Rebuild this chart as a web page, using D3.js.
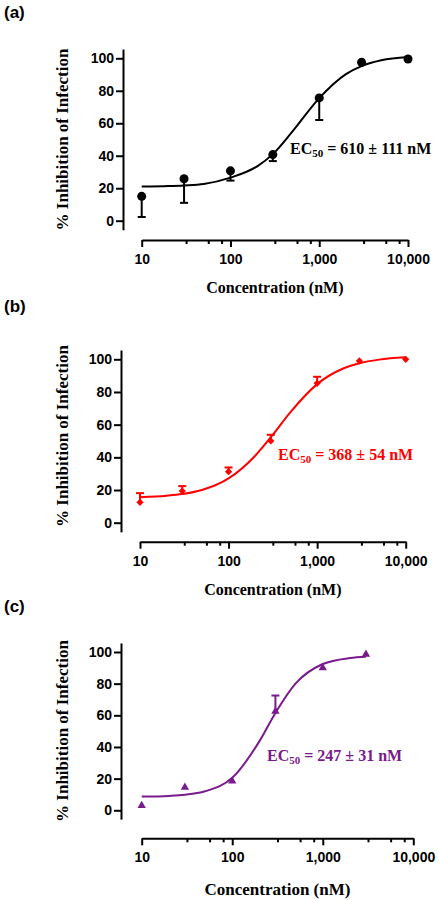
<!DOCTYPE html>
<html><head><meta charset="utf-8">
<script src="https://cdn.jsdelivr.net/npm/d3@7"></script>
<style>
body{margin:0;background:#fff}
.tick text{font-family:"Liberation Sans",Arial,sans-serif;font-weight:bold;font-size:14px;fill:#000}
</style>
</head><body>
<svg id="chart" width="438" height="900"></svg>
<script>
// ---- data ----
const conc = [10, 30, 100, 300, 1000, 3000, 10000];
const concC = [10, 30, 100, 300, 1000, 3000];
const inhA = [15, 25.8, 30.7, 40.7, 75.6, 97.5, 99.6];
const errA = [12.7, 14.8, 6, 4, 13.6, 0, 0];
const inhB = [12.5, 19.4, 31.2, 50, 85.3, 99, 100];
const errB = [5.6, 3, 2.6, 3.8, 4, 0, 0];
const inhC = [3, 14.5, 18.5, 62.5, 90, 98.5];
const errC = [0, 0, 0, 10, 0, 0];
const fitX = [10, 20, 30, 50, 100, 200, 300, 500, 1000, 2000, 3000, 5000, 10000];
const fitA = [21.0, 21.3, 21.7, 22.6, 26.5, 33.5, 41, 55, 75.5, 90.3, 95.2, 98.8, 100.8];
const fitB = [15.6, 16.5, 17.5, 20, 27.1, 41, 52.3, 67.7, 84.8, 94.5, 97.6, 99.8, 101.2];
const fitXC = [10, 20, 30, 50, 100, 200, 300, 500, 1000, 2000, 3000];
const fitC = [8.65, 9.1, 9.8, 12.0, 20.5, 43.7, 61.5, 80, 92.4, 96.2, 97.0];
const xTicks = [10, 100, 1000, 10000];
const xMinor = [31.6, 56.2, 79.4, 316, 562, 794, 3160, 5620, 7940];
const yTicks = [0, 20, 40, 60, 80, 100];
const panelLabels = ["(a)", "(b)", "(c)"];
const ecValues = [" = 610 ± 111 nM", " = 368 ± 54 nM", " = 247 ± 31 nM"];

// ---- layout (positions/styles) ----
const panels = [
  {label: panelLabels[0], labelY: 18, x: conc, y: inhA, e: errA, dir: -1, fx: fitX, fy: fitA,
   color: "#000000", marker: "circle", ec: ecValues[0],
   xr: [141.7, 408], axisY: 240, yAxisX: 123, y0: 220.7, y100: 58.3,
   ecX: 290, ecY: 154, xTitleY: 293, xTitleSize: 16, yTitleC: 139.5},
  {label: panelLabels[1], labelY: 312, x: conc, y: inhB, e: errB, dir: 1, fx: fitX, fy: fitB,
   color: "#ff0000", marker: "diamond", ec: ecValues[1],
   xr: [140, 405.7], axisY: 541.7, yAxisX: 121, y0: 522.7, y100: 359.3,
   ecX: 278, ecY: 460, xTitleY: 595, xTitleSize: 16, yTitleC: 436},
  {label: panelLabels[2], labelY: 612, x: concC, y: inhC, e: errC, dir: 1, fx: fitXC, fy: fitC,
   color: "#7a1a8c", marker: "triangle", ec: ecValues[2],
   xr: [141.7, 413.3], axisY: 838.3, yAxisX: 121, y0: 810.3, y100: 652,
   ecX: 267, ecY: 761, xTitleY: 895, xTitleSize: 17, yTitleC: 731}
];

const svg = d3.select("#chart");
const SANS = '"Liberation Sans", Arial, sans-serif';
const SERIF = '"Liberation Serif", "Times New Roman", serif';

panels.forEach(p => {
  const g = svg.append("g");
  const x = d3.scaleLog().domain([10, 10000]).range(p.xr);
  const unit = (p.y0 - p.y100) / 100;
  const y = d3.scaleLinear().domain([-5.6, 105.7]).range([p.y0 + 5.6 * unit, p.y100 - 5.7 * unit]);

  // panel label
  g.append("text").attr("x", 4).attr("y", p.labelY).text(p.label)
    .attr("font-family", SANS).attr("font-weight", "bold").attr("font-size", 17);

  // x axis
  const xa = g.append("g").attr("transform", `translate(0,${p.axisY})`)
    .call(d3.axisBottom(x).tickValues(xTicks).tickFormat(d3.format(",")).tickSize(7).tickPadding(7).tickSizeOuter(0));
  const xm = g.append("g").attr("transform", `translate(0,${p.axisY})`)
    .call(d3.axisBottom(x).tickValues(xMinor).tickFormat("").tickSize(4).tickSizeOuter(0));
  xm.select(".domain").remove();

  // y axis
  const ya = g.append("g").attr("transform", `translate(${p.yAxisX},0)`)
    .call(d3.axisLeft(y).tickValues(yTicks).tickSize(7).tickPadding(2).tickSizeOuter(0));

  g.selectAll(".domain, .tick line").attr("stroke", "#000").attr("stroke-width", 2);

  // axis titles
  g.append("text").attr("x", (p.xr[0] + p.xr[1]) / 2).attr("y", p.xTitleY)
    .attr("text-anchor", "middle").attr("font-family", SERIF).attr("font-weight", "bold")
    .attr("font-size", p.xTitleSize).text("Concentration (nM)");
  g.append("text").attr("transform", `translate(68,${p.yTitleC}) rotate(-90)`)
    .attr("text-anchor", "middle").attr("font-family", SERIF).attr("font-weight", "bold")
    .attr("font-size", 17).text("% Inhibition of Infection");

  // fitted curve
  const pts = p.fx.map((v, i) => [x(v), y(p.fy[i])]);
  g.append("path").attr("d", d3.line().curve(d3.curveMonotoneX)(pts))
    .attr("fill", "none").attr("stroke", p.color).attr("stroke-width", 2);

  // error bars
  const data = p.x.map((v, i) => ({c: v, m: p.y[i], e: p.e[i]}));
  const eb = g.append("g").attr("stroke", p.color).attr("stroke-width", 2);
  data.filter(d => d.e > 0).forEach(d => {
    const cx = x(d.c), yEnd = y(d.m + p.dir * d.e);
    eb.append("line").attr("x1", cx).attr("x2", cx).attr("y1", y(d.m)).attr("y2", yEnd);
    eb.append("line").attr("x1", cx - 4).attr("x2", cx + 4).attr("y1", yEnd).attr("y2", yEnd);
  });

  // markers
  let sym, size, rot = 0;
  if (p.marker === "circle") { sym = d3.symbolCircle; size = 64; }
  else if (p.marker === "diamond") { sym = d3.symbolSquare; size = 26; rot = 45; }
  else { sym = d3.symbolTriangle; size = 30; }
  g.append("g").selectAll("path").data(data).join("path")
    .attr("d", d3.symbol().type(sym).size(size))
    .attr("transform", d => `translate(${x(d.c)},${y(d.m)}) rotate(${rot})`)
    .attr("fill", p.color);

  // EC50 annotation
  const t = g.append("text").attr("x", p.ecX).attr("y", p.ecY)
    .attr("font-family", SERIF).attr("font-weight", "bold").attr("font-size", 16).attr("fill", p.color);
  t.append("tspan").text("EC");
  t.append("tspan").attr("font-size", 11).attr("dy", 3).text("50");
  t.append("tspan").attr("dy", -3).text(p.ec);
});
</script>
</body></html>
